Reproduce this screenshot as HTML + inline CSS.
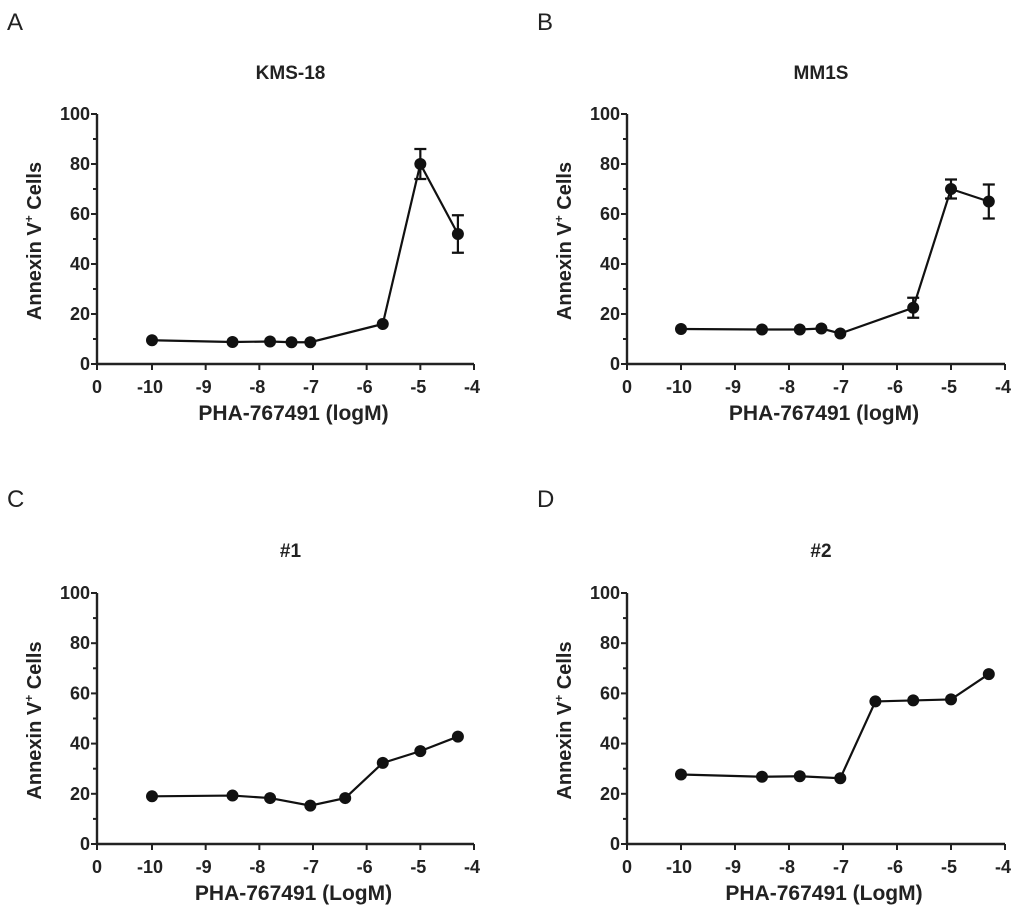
<!DOCTYPE html>
<html><head><meta charset="utf-8"><style>
body{margin:0;background:#fff;}
svg{display:block;font-family:"Liberation Sans",Arial,sans-serif;}
</style></head><body>
<svg id="fig" width="1024" height="908" viewBox="0 0 1024 908"></svg>
<script>
const xTicks = [-10,-9,-8,-7,-6,-5,-4];
const yTicks = [0,20,40,60,80,100];
const titles = ["KMS-18","MM1S","#1","#2"];
const letters = ["A","B","C","D"];
const xTitles = ["PHA-767491 (logM)","PHA-767491 (logM)","PHA-767491 (LogM)","PHA-767491 (LogM)"];
const xA = [-10,-8.5,-7.8,-7.4,-7.05,-5.7,-5,-4.3];
const yA = [9.5,8.8,9,8.7,8.7,16,80,52];
const eA = [0,0,0,0,0,0,6,7.5];
const xB = [-10,-8.5,-7.8,-7.4,-7.05,-5.7,-5,-4.3];
const yB = [14,13.8,13.8,14.2,12.2,22.5,70,65];
const eB = [0,0,0,0,0,4,3.8,6.8];
const xC = [-10,-8.5,-7.8,-7.05,-6.4,-5.7,-5,-4.3];
const yC = [19,19.3,18.3,15.3,18.3,32.3,37,42.8];
const xD = [-10,-8.5,-7.8,-7.05,-6.4,-5.7,-5,-4.3];
const yD = [27.7,26.8,27,26.2,56.8,57.2,57.6,67.7];

const NS="http://www.w3.org/2000/svg";
const svg=document.getElementById('fig');
function mk(tag,attrs,parent,text){const e=document.createElementNS(NS,tag);for(const k in attrs)e.setAttribute(k,attrs[k]);if(text!==undefined)e.textContent=text;(parent||svg).appendChild(e);return e;}

const panels=[
 {ox:97,oy:364,top:114,x10:152,x4:474,lx:7,ly:30,ty:79,xs:xA,ys:yA,es:eA},
 {ox:627,oy:364,top:114,x10:681,x4:1005,lx:537,ly:30,ty:79,xs:xB,ys:yB,es:eB},
 {ox:97,oy:844,top:593,x10:152,x4:474,lx:7,ly:507,ty:557,xs:xC,ys:yC,es:null},
 {ox:627,oy:844,top:593,x10:681,x4:1005,lx:537,ly:507,ty:557,xs:xD,ys:yD,es:null}
];
panels.forEach((p,i)=>{
 const g=mk('g',{});
 
 
 const sx=v=>p.x10+(v+10)*(p.x4-p.x10)/6;
 const sy=v=>p.oy-v*(p.oy-p.top)/100;
 const L=mk('text',{x:p.lx,y:p.ly,'font-size':24,fill:'#222'},g,letters[i]);
 
 const T=mk('text',{x:(p.ox+p.x4)/2+5,y:p.ty,'font-size':19,'font-weight':'bold','text-anchor':'middle',fill:'#222'},g,titles[i]);
 
 const ya=mk('line',{x1:p.ox,y1:p.top,x2:p.ox,y2:p.oy,stroke:'#222','stroke-width':2.4},g);
 
 const xa=mk('line',{x1:p.ox-1,y1:p.oy,x2:p.x4,y2:p.oy,stroke:'#222','stroke-width':2.4},g);
 
 for(let v=0;v<=100;v+=10){mk('line',{x1:p.ox-(v%20==0?6:4),y1:sy(v),x2:p.ox,y2:sy(v),stroke:'#222','stroke-width':2},g);}
 yTicks.forEach(v=>{const t=mk('text',{x:p.ox-7,y:sy(v)+6,'font-size':18,'font-weight':'bold','text-anchor':'end',fill:'#222'},g,v);
  });
 mk('line',{x1:p.ox,y1:p.oy,x2:p.ox,y2:p.oy+6,stroke:'#222','stroke-width':2},g);
 const z=mk('text',{x:p.ox,y:p.oy+29,'font-size':18,'font-weight':'bold','text-anchor':'middle',fill:'#222'},g,'0');
 
 xTicks.forEach(v=>{mk('line',{x1:sx(v),y1:p.oy,x2:sx(v),y2:p.oy+6,stroke:'#222','stroke-width':2},g);
  const t=mk('text',{x:sx(v)-2,y:p.oy+29,'font-size':18,'font-weight':'bold','text-anchor':'middle',fill:'#222'},g,v);
  });
 const xt=mk('text',{x:(p.ox+p.x4)/2+8,y:p.oy+56,'font-size':21,'font-weight':'bold','text-anchor':'middle',fill:'#222'},g,xTitles[i]);
 
 const cy=(p.oy+p.top)/2+2, cx=p.ox-56;
 const yt=mk('text',{x:cx,y:cy,'font-size':20,'font-weight':'bold','text-anchor':'middle',fill:'#222',transform:`rotate(-90 ${cx} ${cy})`},g);
 
 yt.appendChild(document.createTextNode('Annexin V'));
 mk('tspan',{'font-size':12,dy:-8},yt,'+');
 mk('tspan',{dy:8},yt,' Cells');
 const pts=p.xs.map((x,k)=>sx(x)+','+sy(p.ys[k])).join(' ');
 const line=mk('polyline',{points:pts,fill:'none',stroke:'#111','stroke-width':2.2},g);
 
 p.xs.forEach((x,k)=>{
  if(p.es&&p.es[k]>0){const e=p.es[k],X=sx(x);
   const eb=mk('path',{d:`M${X},${sy(p.ys[k]-e)}V${sy(p.ys[k]+e)}M${X-6},${sy(p.ys[k]-e)}H${X+6}M${X-6},${sy(p.ys[k]+e)}H${X+6}`,stroke:'#111','stroke-width':2.2,fill:'none'},g);
   }
  const c=mk('circle',{cx:sx(x),cy:sy(p.ys[k]),r:6,fill:'#111'},g);
  
 });
});
</script>
</body></html>
